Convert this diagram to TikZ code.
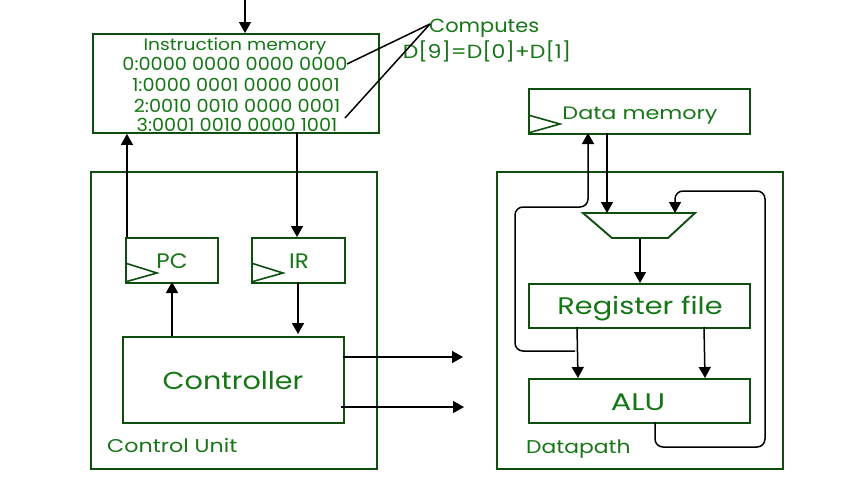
\documentclass[tikz,border=0pt]{standalone}
\usepackage{graphicx}
\usepackage{fontspec}
\setmainfont{Poppins}
\usetikzlibrary{arrows.meta}
\definecolor{bordergreen}{RGB}{16,78,16}
\definecolor{textgreen}{RGB}{22,118,22}
\newcommand\hsx[2]{\scalebox{#1}[1]{#2}}
\tikzset{
  x=1pt, y=-1pt,
  box/.style={draw=bordergreen, line width=1.9pt, fill=none},
  wire/.style={draw=black, line width=1.5pt},
  arr/.style={wire, -{Triangle[length=11pt,width=12pt]}},
  lbl/.style={text=textgreen, inner sep=0pt, anchor=base},
  clk/.style={draw=bordergreen, line width=1.6pt},
}
\begin{document}
\begin{tikzpicture}
\useasboundingbox (0,0) rectangle (856,480);
% instruction memory
\node[box, minimum width=286pt, minimum height=99pt, anchor=north west] (imem) at (92,33) {};
\node[lbl, font=\fontsize{16.5}{16.5}\selectfont] (imt) at (235,50) {\hsx{1.13}{Instruction memory}};
\node[lbl, font=\fontsize{18}{18}\selectfont] (i0) at (235,70.5) {\hsx{1.07}{0:0000 0000 0000 0000}};
\node[lbl, font=\fontsize{18}{18}\selectfont] (i1) at (236,91) {\hsx{1.07}{1:0000 0001 0000 0001}};
\node[lbl, font=\fontsize{18}{18}\selectfont] (i2) at (237,112) {\hsx{1.07}{2:0010 0010 0000 0001}};
\node[lbl, font=\fontsize{18}{18}\selectfont] (i3) at (237,131.5) {\hsx{1.07}{3:0001 0010 0000 1001}};
\coordinate (topin) at (245,0);
\draw[arr] (topin) -- (imem.north -| topin);
% comment
\node[lbl, font=\fontsize{19}{19}\selectfont, anchor=base west] (comp) at (429,32.5) {\hsx{1.1}{Computes}};
\node[lbl, font=\fontsize{19}{19}\selectfont] (eq) at (487,58) {\hsx{1.16}{D[9]=D[0]+D[1]}};
\coordinate (cp) at (430,24);
\coordinate (c0) at (347,64);
\coordinate (c3) at (345,118);
\draw[wire] (cp) -- (c0);
\draw[wire] (cp) -- (c3);
% control unit
\node[box, minimum width=286pt, minimum height=297pt, anchor=north west] (cu) at (90,171) {};
\node[lbl, font=\fontsize{18.5}{18.5}\selectfont, anchor=base west] (cul) at (107,452) {\hsx{1.2}{Control Unit}};
\node[box, minimum width=92pt, minimum height=45pt, anchor=north west] (pc) at (125,237) {};
\node[lbl, font=\fontsize{21}{21}\selectfont] (pct) at (172,268) {\hsx{1.1}{PC}};
\draw[clk] (125,263) -- (157,273) -- (125,282);
\node[box, minimum width=93pt, minimum height=45pt, anchor=north west] (ir) at (251,237) {};
\node[lbl, font=\fontsize{21}{21}\selectfont] (irt) at (299,268) {\hsx{1.1}{IR}};
\draw[clk] (251,263) -- (283,273) -- (251,282);
\node[box, minimum width=221pt, minimum height=86pt, anchor=north west] (ctl) at (122,336) {};
\node[lbl, font=\fontsize{24.5}{24.5}\selectfont] (ctlt) at (233,389) {\hsx{1.17}{Controller}};
\draw[arr] ([xshift=-45pt]pc.north) -- ([xshift=-45pt]pc.north |- imem.south) ;
\draw[arr] (297,132) -- (297,237);
\draw[arr] (172,336) -- (172,282);
\draw[arr] (298,282) -- (298,334);
\coordinate (o1) at (463,357);
\coordinate (o2) at (464,407);
\draw[arr] (343,357) -- (o1);
\draw[arr] (341,407) -- (o2);
% datapath
\node[box, minimum width=286pt, minimum height=297pt, anchor=north west] (dp) at (496,171) {};
\node[lbl, font=\fontsize{18.5}{18.5}\selectfont, anchor=base west] (dpl) at (526,453) {\hsx{1.18}{Datapath}};
\node[box, minimum width=221pt, minimum height=45pt, anchor=north west] (dm) at (528,88) {};
\node[lbl, font=\fontsize{18}{18}\selectfont] (dmt) at (640,119) {\hsx{1.24}{Data memory}};
\draw[clk] (528,115) -- (560,124) -- (528,133);
\draw[box] (583,213) -- (695,213) -- (668,238) -- (612,238) -- cycle;
\coordinate (mux) at (640,238);
\node[box, minimum width=221pt, minimum height=44pt, anchor=north west] (rf) at (528,283) {};
\node[lbl, font=\fontsize{24}{24}\selectfont] (rft) at (640,314) {\hsx{1.2}{Register file}};
\node[box, minimum width=221pt, minimum height=44pt, anchor=north west] (alu) at (528,378) {};
\node[lbl, font=\fontsize{24}{24}\selectfont] (alut) at (638,410) {\hsx{1.27}{ALU}};
\draw[arr] (607,133) -- (607,213);
\draw[arr] (mux) -- (640,283);
\draw[arr] (577,327) -- (578,378);
\draw[arr] (704,327) -- (705,378);
\draw[arr, rounded corners=8pt] (575,351) -- (515,351) -- (515,207) -- (588,207) -- (588,133);
\draw[arr, rounded corners=8pt] (655,422) -- (655,447) -- (765,447) -- (765,191) -- (675,191) -- (675,213);
\end{tikzpicture}
\end{document}
